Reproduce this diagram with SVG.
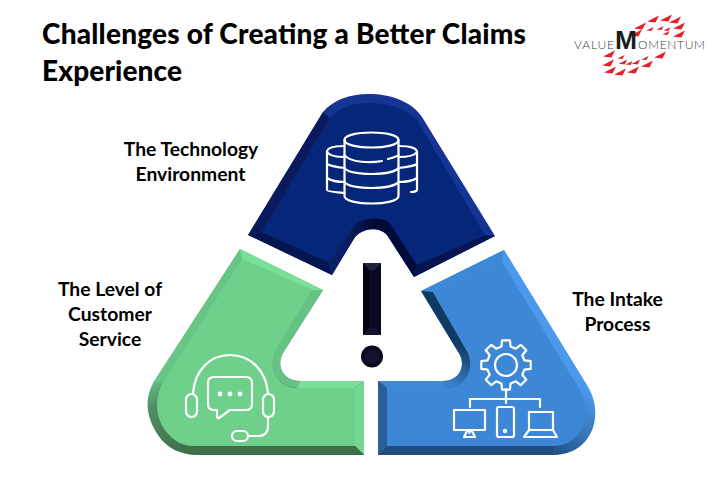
<svg xmlns="http://www.w3.org/2000/svg" xmlns:xlink="http://www.w3.org/1999/xlink" width="720" height="496" viewBox="0 0 720 496">
<style>
.t{font-family:"Lato","Liberation Sans",sans-serif;font-weight:700;fill:#000}
.title{font-size:28px;font-weight:900}
.lab{font-size:19.3px;text-anchor:middle}
.ic{fill:none;stroke:#fff;stroke-width:2.2;stroke-linecap:round;stroke-linejoin:round}
.lg{font-family:"Lato","Liberation Sans",sans-serif;font-weight:300;fill:#3a3a3a;font-size:12px}
.r{fill:#e5202c}
</style>
<defs>
<polygon id="tri" points="-6,2.5 6,-3.5 2.5,3.5"/>
<linearGradient id="gArc" gradientUnits="userSpaceOnUse" x1="150" y1="380" x2="190" y2="450"><stop offset="0" stop-color="#68c585"/><stop offset=".3" stop-color="#4f8f62"/><stop offset="1" stop-color="#3e6e4a"/></linearGradient>
<linearGradient id="bArc" gradientUnits="userSpaceOnUse" x1="595" y1="395" x2="553" y2="455"><stop offset="0" stop-color="#4b98ec"/><stop offset=".5" stop-color="#3a78bd"/><stop offset="1" stop-color="#1f4d80"/></linearGradient>
<linearGradient id="bIn" gradientUnits="userSpaceOnUse" x1="460" y1="345" x2="445" y2="388"><stop offset="0" stop-color="#0f3a62"/><stop offset="1" stop-color="#3f88d6"/></linearGradient>
<linearGradient id="nGrad" gradientUnits="userSpaceOnUse" x1="345" y1="225" x2="400" y2="225"><stop offset="0" stop-color="#0a1f66"/><stop offset=".5" stop-color="#000a35"/><stop offset="1" stop-color="#000a3a"/></linearGradient>
</defs>

<g id="title">
<text class="t title" x="42" y="44" textLength="484">Challenges of Creating a Better Claims</text>
<text class="t title" x="42" y="81" textLength="140">Experience</text>
</g>

<g id="logo">
<use href="#tri" class="r" transform="translate(653,19)"/>
<use href="#tri" class="r" transform="translate(666,18)"/>
<use href="#tri" class="r" transform="translate(675,20)"/>
<use href="#tri" class="r" transform="translate(640,26)"/>
<use href="#tri" class="r" transform="translate(679,26)"/>
<use href="#tri" class="r" transform="translate(660,28) scale(.6)"/>
<use href="#tri" class="r" transform="translate(650,29) scale(.6)"/>
<use href="#tri" class="r" transform="translate(667,29) scale(.6)"/>
<use href="#tri" class="r" transform="translate(636,33)"/>
<use href="#tri" class="r" transform="translate(679,34)"/>
<use href="#tri" class="r" transform="translate(666,33) scale(.6)"/>
<use href="#tri" class="r" transform="translate(609,54)"/>
<use href="#tri" class="r" transform="translate(660,55)"/>
<use href="#tri" class="r" transform="translate(621,57) scale(.6)"/>
<use href="#tri" class="r" transform="translate(645,58) scale(.6)"/>
<use href="#tri" class="r" transform="translate(608,63)"/>
<use href="#tri" class="r" transform="translate(623,62) scale(.7)"/>
<use href="#tri" class="r" transform="translate(629,63) scale(.6)"/>
<use href="#tri" class="r" transform="translate(636,62) scale(.7)"/>
<use href="#tri" class="r" transform="translate(647,64)"/>
<use href="#tri" class="r" transform="translate(610,70)"/>
<use href="#tri" class="r" transform="translate(620,72)"/>
<use href="#tri" class="r" transform="translate(633,70)"/>
<text class="lg" x="574" y="49" textLength="40">VALUE</text>
<text x="615" y="49" font-family="Liberation Sans,sans-serif" font-weight="700" font-size="25" fill="#1c1c1c" textLength="22" lengthAdjust="spacingAndGlyphs">M</text>
<text class="lg" x="638" y="49" textLength="67">OMENTUM</text>
</g>

<g id="node-technology">
<path fill="#163494" d="M248,235 L323,112 C333,100 350,94 368,94 C392,94 412,102 422,117 L495,236 L414,277 L387,235 C380,227 364,227 355,237 L332,275 Z"/>
<polygon fill="#0a1a5c" points="248,235 323,112 330,118 262,232"/>
<polygon fill="#05154f" points="248,235 262,232 328,262 332,275"/>
<polygon fill="#05154f" points="495,236 485,235 417,265 414,277"/>
<path fill="url(#nGrad)" d="M332,275 L355,237 C364,227 380,227 387,235 L414,277 L417,265 L390,223 C382,216 362,216 353,227 L328,262 Z"/>
<path fill="#06267a" d="M262,232 L330,118 C340,107 352,103 368,103 C388,103 406,108 417,120 L485,235 L417,265 L390,223 C382,216 362,216 353,227 L328,262 Z"/>
<g class="ic">
<path d="M344.5,140 C344.5,130 398.5,130 398.5,140 V196 C398.5,206 344.5,206 344.5,196 Z"/>
<path d="M344.5,140 C344.5,150 398.5,150 398.5,140"/>
<path d="M344.5,155 C350,163 372,163 382,161 M388,159 C392,158 396,157 398.5,155"/>
<path d="M344.5,168 C350,176 392,176 398.5,168"/>
<path d="M344.5,182 C350,190 392,190 398.5,182"/>
<path d="M344.5,146 C334,146 327,148 327,152 V190 C327,191 333,192 344.5,193"/>
<path d="M327,152 C329,155 336,157 344.5,157 M327,164 C330,166 337,167 344.5,168 M327,178 C330,180 337,182 344.5,182"/>
<path d="M398.5,146 C409,146 417,148 417,152 V190 C417,191 414,192 411,192"/>
<path d="M417,152 C415,155 408,157 398.5,157 M417,164 C414,166 407,167 398.5,168 M417,178 C414,180 407,182 398.5,182"/>
</g>
</g>

<g id="node-service">
<path fill="url(#gArc)" d="M240,249 L323,290 L283,353 C275,368 285,381 300,381 H364 V455 H197 C182,455 167,449 158,435 C148,420 143,402 153,383 Z"/>
<polygon fill="#7ae096" points="240,249 323,290 312,290 242,259"/>
<polygon fill="#68c585" points="240,249 242,259 163,382 153,383"/>
<path fill="#66c284" d="M323,290 L283,353 C275,368 285,381 300,381 L297,388 C278,388 268,368 275,352 L312,290 Z"/>
<polygon fill="#7ae096" points="300,381 364,381 355,388 297,388"/>
<polygon fill="#74d890" points="364,381 364,455 355,446 355,388"/>
<polygon fill="#3e6e4a" points="364,455 355,446 193,446 197,455"/>
<path fill="#6fd08c" d="M242,259 L312,290 L275,352 C268,368 278,388 297,388 H355 V446 H193 C183,446 173,441 165,430 C157,420 153,400 163,382 Z"/>
<g class="ic">
<path d="M193,393 C195,370 210,355 230,355 C250,355 266,370 268,393"/>
<rect x="186" y="394" width="11" height="23" rx="5.5"/>
<rect x="263" y="394" width="11" height="23" rx="5.5"/>
<path d="M214,377 H246 Q252,377 252,383 V404 Q252,410 246,410 H230 L219,418 Q217,419 217,416 V410 H214 Q208,410 208,404 V383 Q208,377 214,377 Z"/>
<path d="M268,418 V426 Q268,436 258,436 H248"/>
<rect x="232" y="431" width="16" height="10" rx="5"/>
</g>
<circle cx="220" cy="394" r="2.4" fill="#fff"/><circle cx="230" cy="394" r="2.4" fill="#fff"/><circle cx="240" cy="394" r="2.4" fill="#fff"/>
</g>

<g id="node-intake">
<path fill="url(#bArc)" d="M504,250 L588,387 C605,415 592,455 553,455 H378 V381 H443 C458,381 466,368 460,355 L421,291 Z"/>
<polygon fill="#3f88d6" points="421,291 504,250 502,262 433,292"/>
<polygon fill="#4b98ec" points="504,250 588,387 578,387 502,262"/>
<path fill="url(#bIn)" d="M421,291 L460,355 C466,368 458,381 443,381 L445,388 C465,388 475,370 468,353 L433,292 Z"/>
<polygon fill="#3f88d6" points="378,381 443,381 445,388 387,388"/>
<polygon fill="#2a5f9a" points="378,381 387,388 387,446 378,455"/>
<polygon fill="#1f4d80" points="378,455 387,446 553,446 553,455"/>
<path fill="#3e87d6" d="M502,262 L578,387 C595,415 582,446 553,446 H387 V388 H445 C465,388 475,370 468,353 L433,292 Z"/>
<g class="ic">
<path transform="translate(506,365)" d="M18.44,-4.6 L24.69,-3.91 L24.69,3.91 L18.44,4.6 L16.29,9.79 L20.22,14.69 L14.69,20.22 L9.79,16.29 L4.6,18.44 L3.91,24.69 L-3.91,24.69 L-4.6,18.44 L-9.79,16.29 L-14.69,20.22 L-20.22,14.69 L-16.29,9.79 L-18.44,4.6 L-24.69,3.91 L-24.69,-3.91 L-18.44,-4.6 L-16.29,-9.79 L-20.22,-14.69 L-14.69,-20.22 L-9.79,-16.29 L-4.6,-18.44 L-3.91,-24.69 L3.91,-24.69 L4.6,-18.44 L9.79,-16.29 L14.69,-20.22 L20.22,-14.69 L16.29,-9.79 Z"/>
<circle cx="506" cy="365" r="11"/>
<path d="M506,389 V403 M470,407 V399 H540 V407"/>
<rect x="454" y="410" width="31" height="20"/>
<path d="M469.5,430 V433 M464,437 H475 L472,431 H467 Z"/>
<rect x="497" y="407" width="17" height="30" rx="2"/>
<path d="M529,430 V412 H553 V430 M529,430 H553 L557,437 H524 Z"/>
</g>
<circle cx="505" cy="431" r="2.2" fill="#fff"/>
</g>

<g id="node-alert">
<polygon fill="#0a0a20" points="363,263 381,263 381,335 363,335"/>
<polygon fill="#22223a" points="363,263 381,263 375,270 369,270"/>
<polygon fill="#030310" points="363,263 369,270 369,328 363,335"/>
<polygon fill="#14142c" points="363,335 369,328 375,328 381,335"/>
<circle cx="372" cy="356.5" r="11" fill="#0a0a22"/>
<circle cx="372" cy="356.5" r="7" fill="#14142e"/>
</g>

<g id="labels">
<text class="t lab" x="191" y="156">The Technology</text>
<text class="t lab" x="190.5" y="181">Environment</text>
<text class="t lab" x="110" y="296">The Level of</text>
<text class="t lab" x="110" y="321">Customer</text>
<text class="t lab" x="110" y="346">Service</text>
<text class="t lab" x="617.5" y="306">The Intake</text>
<text class="t lab" x="617.5" y="331">Process</text>
</g>
<g id="connectors"/>
</svg>
